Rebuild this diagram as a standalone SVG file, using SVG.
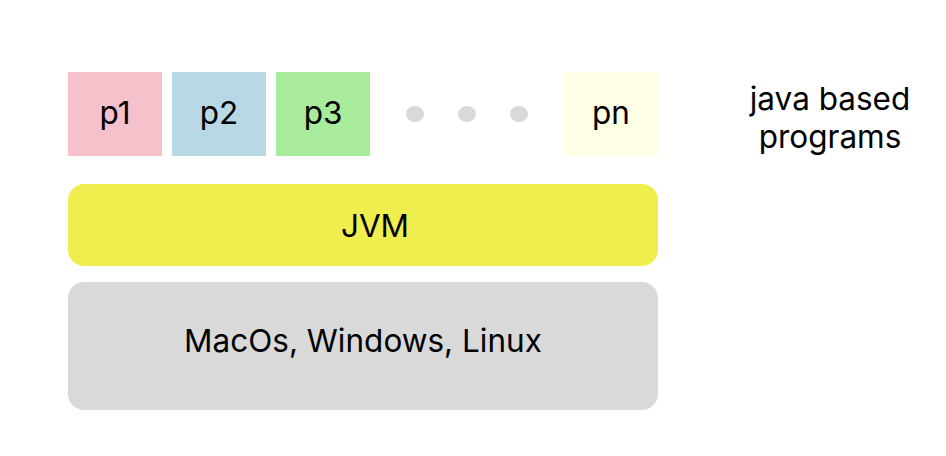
<svg xmlns="http://www.w3.org/2000/svg" width="946" height="456" viewBox="0 0 946 456">
<style>
text{font-family:Inter,"Liberation Sans",sans-serif;font-size:31.5px;fill:#000;text-anchor:middle}
.dot{fill:#d9d9d9}
</style>
<rect width="946" height="456" fill="#fff"/>
<g id="p1"><rect x="68" y="72" width="94" height="84" fill="#f5c2cc"/><text x="115" y="124">p1</text></g>
<g id="p2"><rect x="172" y="72" width="94" height="84" fill="#b7d8e4"/><text x="219" y="124">p2</text></g>
<g id="p3"><rect x="276" y="72" width="94" height="84" fill="#a8ec9b"/><text x="323" y="124">p3</text></g>
<g id="dots"><ellipse class="dot" cx="415" cy="114" rx="9" ry="8"/><ellipse class="dot" cx="467" cy="114" rx="9" ry="8"/><ellipse class="dot" cx="519" cy="114" rx="9" ry="8"/></g>
<g id="pn"><rect x="564" y="72" width="94" height="84" fill="#ffffe6"/><text x="611" y="124">pn</text></g>
<g id="label"><text x="830" y="110">java based</text><text x="830" y="148">programs</text></g>
<g id="jvm"><rect x="68" y="184" width="590" height="82" rx="16" fill="#f0ee4e"/><text x="375" y="237">JVM</text></g>
<g id="os"><rect x="68" y="282" width="590" height="128" rx="16" fill="#d9d9d9"/><text x="363" y="352">MacOs, Windows, Linux</text></g>
<g id="connectors"/>
</svg>
